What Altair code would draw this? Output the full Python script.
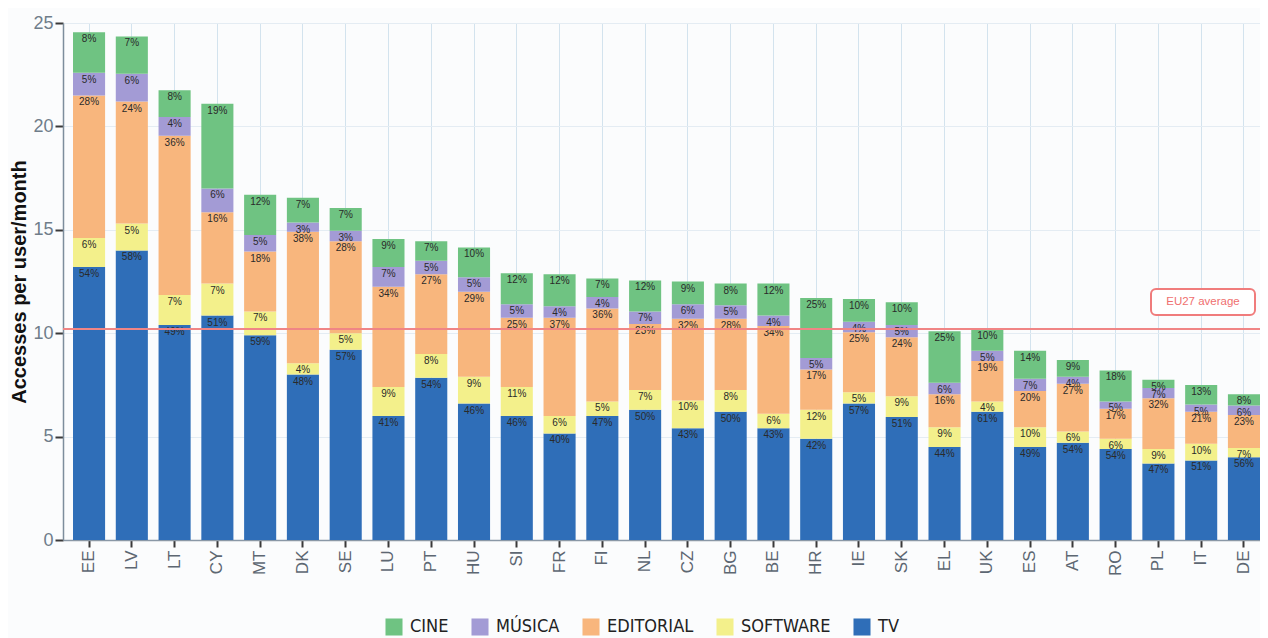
import altair as alt
import pandas as pd

countries = ["EE", "LV", "LT", "CY", "MT", "DK", "SE", "LU", "PT", "HU", "SI", "FR", "FI", "NL",
             "CZ", "BG", "BE", "HR", "IE", "SK", "EL", "UK", "ES", "AT", "RO", "PL", "IT", "DE"]

categories = ["CINE", "MÚSICA", "EDITORIAL", "SOFTWARE", "TV"]

# accesses per user/month, by segment
tv = [13.2, 14.0, 10.4, 10.85, 9.9, 8.0, 9.2, 6.0, 7.85, 6.6, 6.0, 5.15, 6.0, 6.3,
      5.4, 6.2, 5.4, 4.9, 6.6, 5.95, 4.5, 6.2, 4.5, 4.7, 4.4, 3.7, 3.85, 4.0]
software = [1.4, 1.3, 1.45, 1.55, 1.15, 0.55, 0.8, 1.4, 1.15, 1.3, 1.4, 0.85, 0.7, 0.95,
            1.35, 1.05, 0.7, 1.4, 0.55, 1.0, 0.95, 0.5, 0.95, 0.55, 0.5, 0.7, 0.8, 0.45]
editorial = [6.9, 5.9, 7.7, 3.45, 2.9, 6.35, 4.45, 4.85, 3.85, 4.1, 3.35, 4.75, 4.5, 3.2,
             3.95, 3.45, 4.25, 1.95, 2.9, 2.85, 1.6, 1.95, 1.75, 2.3, 1.45, 2.45, 1.55, 1.6]
musica = [1.1, 1.35, 0.9, 1.15, 0.8, 0.45, 0.5, 0.95, 0.65, 0.7, 0.65, 0.55, 0.55, 0.6,
          0.7, 0.65, 0.5, 0.55, 0.5, 0.6, 0.55, 0.5, 0.6, 0.35, 0.35, 0.5, 0.35, 0.45]
cine = [1.95, 1.8, 1.3, 4.1, 1.95, 1.2, 1.1, 1.35, 0.95, 1.45, 1.5, 1.55, 0.9, 1.5,
        1.1, 1.05, 1.55, 2.9, 1.1, 1.1, 2.5, 1.05, 1.35, 0.8, 1.5, 0.4, 0.95, 0.55]

# percentage labels shown on each segment
tv_pct = [54, 58, 49, 51, 59, 48, 57, 41, 54, 46, 46, 40, 47, 50, 43, 50, 43, 42, 57, 51, 44, 61, 49, 54, 54, 47, 51, 56]
sw_pct = [6, 5, 7, 7, 7, 4, 5, 9, 8, 9, 11, 6, 5, 7, 10, 8, 6, 12, 5, 9, 9, 4, 10, 6, 6, 9, 10, 7]
ed_pct = [28, 24, 36, 16, 18, 38, 28, 34, 27, 29, 25, 37, 36, 23, 32, 28, 34, 17, 25, 24, 16, 19, 20, 27, 17, 32, 21, 23]
mu_pct = [5, 6, 4, 6, 5, 3, 3, 7, 5, 5, 5, 4, 4, 7, 6, 5, 4, 5, 4, 5, 6, 5, 7, 4, 5, 7, 5, 6]
ci_pct = [8, 7, 8, 19, 12, 7, 7, 9, 7, 10, 12, 12, 7, 12, 9, 8, 12, 25, 10, 10, 25, 10, 14, 9, 18, 5, 13, 8]

eu_avg = 10.2

colors = ["#6fc382", "#a39bd5", "#f8b67d", "#f3f08b", "#2f6eb8"]

series = [("TV", tv, tv_pct), ("SOFTWARE", software, sw_pct), ("EDITORIAL", editorial, ed_pct),
          ("MÚSICA", musica, mu_pct), ("CINE", cine, ci_pct)]
rows = []
for order, (cat, vals, pcts) in enumerate(series):
    for c, v, p in zip(countries, vals, pcts):
        rows.append({"country": c, "category": cat, "value": v, "label": f"{p}%", "order": order})
df = pd.DataFrame(rows)

FONT = "Liberation Sans, Arial, sans-serif"

xenc = alt.X("country:N", sort=countries,
             scale=alt.Scale(paddingInner=0.25, paddingOuter=0.117, align=1),
             axis=alt.Axis(title=None, labelAngle=270, labelFontSize=17, labelColor="#5d6772",
                           labelFont=FONT, labelPadding=3, tickSize=7, tickWidth=2,
                           tickColor="#3a3a3a", domainColor="#8a98a6", domainWidth=1.5,
                           grid=True, gridColor="#d3e3ee", gridWidth=1))

base = alt.Chart(df).transform_stack(
    stack="value", groupby=["country"], as_=["y0", "y1"],
    sort=[alt.SortField("order", "ascending")])

bars = base.mark_bar().encode(
    x=xenc,
    y=alt.Y("y0:Q", scale=alt.Scale(domain=[0, 25], nice=False),
            axis=alt.Axis(title="Accesses per user/month", values=[0, 5, 10, 15, 20, 25],
                          titleFontSize=20, titleFont=FONT, titleFontWeight="bold",
                          titleColor="#111111", titlePadding=3,
                          labelFontSize=18, labelColor="#6f7d8a", labelFont=FONT, labelPadding=2,
                          tickSize=8, tickWidth=2, tickColor="#3a3a3a",
                          domainColor="#7d8d9c", domainWidth=1.5,
                          grid=True, gridColor="#e4ecf3", gridWidth=1)),
    y2="y1:Q",
    color=alt.Color("category:N", scale=alt.Scale(domain=categories, range=colors),
                    legend=alt.Legend(title=None, orient="none", direction="horizontal",
                                      legendX=322, legendY=595, symbolType="square",
                                      symbolSize=290, symbolStrokeWidth=0, labelFontSize=18,
                                      labelFont="Liberation Sans Narrow, DejaVu Sans Condensed, sans-serif",
                                      labelColor="#222222", columnPadding=22, labelOffset=7,
                                      padding=0)),
)

labels = base.mark_text(baseline="top", dy=2, fontSize=10, font=FONT, color="#2a2a2a").encode(
    x=alt.X("country:N", sort=countries),
    y=alt.Y("y1:Q"),
    text="label:N",
)

avg_df = pd.DataFrame({"avg": [eu_avg], "name": ["EU27 average"]})
rule = alt.Chart(avg_df).mark_rule(color="#f08585", strokeWidth=2).encode(y="avg:Q")
box = alt.Chart(avg_df).mark_rect(fill="white", stroke="#f07c7c", strokeWidth=2, cornerRadius=5).encode(
    x=alt.value(1088), x2=alt.value(1192), y=alt.value(266), y2=alt.value(292))
box_text = alt.Chart(avg_df).mark_text(color="#ef6f6f", fontSize=11.5, font=FONT).encode(
    x=alt.value(1140), y=alt.value(279), text="name:N")

chart = alt.layer(bars, labels, rule, box, box_text).properties(
    width=1197, height=517,
    autosize=alt.AutoSizeParams(type="none"),
    padding={"left": 55, "top": 15, "right": 0, "bottom": 100},
    background="#fbfcfd",
).configure_view(stroke="transparent")

chart.save("out.html", embed_options={"renderer": "svg", "actions": False})
